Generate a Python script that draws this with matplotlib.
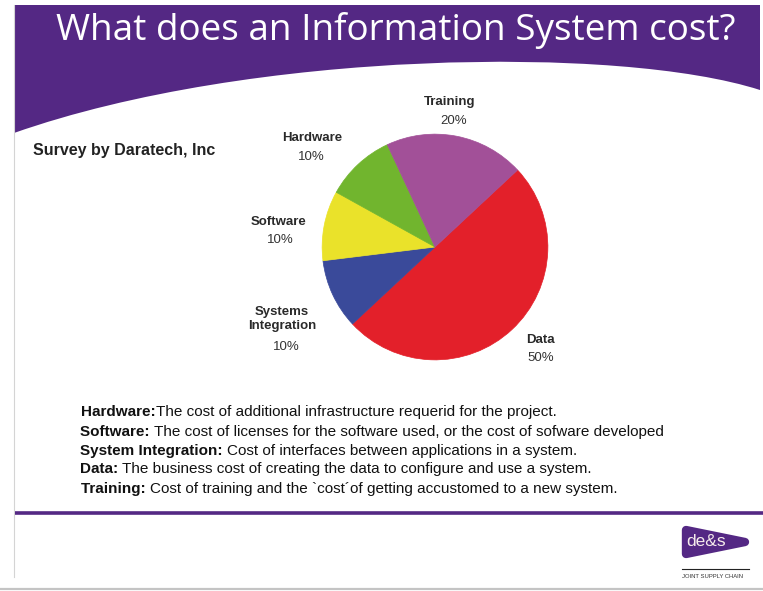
#!/usr/bin/env python3
"""
Slide: what does an information system cost (Daratech survey pie).
"""
import matplotlib.pyplot as plt
from matplotlib.path import Path
from matplotlib.patches import PathPatch, Polygon

# pie data, drawn clockwise starting at the Data slice
categories = ["Data", "Systems\nIntegration", "Software", "Hardware", "Training"]
shares = [50, 10, 10, 10, 20]
colors = ["#e3202a", "#3a4a9a", "#eae22a", "#71b52e", "#a25098"]

# label anchors on the slide (pixels): name position, percent position
label_pos = [
    ((540, 340), (541, 358)),
    ((282, 319), (286, 347)),
    ((279, 222), (280, 240)),
    ((312, 138), (311, 157)),
    ((450, 102), (454, 121)),
]

notes_bold = ["Hardware:", "Software: ", "System Integration: ", "Data: ", "Training: "]
notes_text = [
    "The cost of additional infrastructure requerid for the project.",
    "The cost of licenses for the software used, or the cost of sofware developed",
    "Cost of interfaces between applications in a system.",
    "The business cost of creating the data to configure and use a system.",
    "Cost of training and the `cost\u00b4of getting accustomed to a new system.",
]
notes_x = [81, 80, 80, 80, 81]
notes_y = [412, 432, 451, 469, 489]

PURPLE = "#542884"
W, H = 763, 591

fig = plt.figure(figsize=(W / 100, H / 100), dpi=100)
bg = fig.add_axes([0, 0, 1, 1])
bg.set_xlim(0, W)
bg.set_ylim(H, 0)
bg.axis("off")
renderer = fig.canvas.get_renderer()

# banner with curved lower edge
verts = [(14, 5), (760, 5), (760, 90), (620, 45), (250, 50), (14, 133), (14, 5)]
codes = [Path.MOVETO, Path.LINETO, Path.LINETO, Path.CURVE4, Path.CURVE4,
         Path.CURVE4, Path.CLOSEPOLY]
bg.add_patch(PathPatch(Path(verts, codes), facecolor=PURPLE, edgecolor="none"))

title = bg.text(56, 40, "What does an Information System cost?", color="white",
                fontsize=26, family="Open Sans", va="baseline", ha="left")
tw = title.get_window_extent(renderer).width
title.set_fontsize(26 * 681 / tw)

# frame lines
bg.plot([13.5, 13.5], [5, 577], color="#d4d4d4", lw=0.8)
bg.plot([0, W], [589, 589], color="#c4c4c4", lw=1.6)
bg.plot([15, W], [513, 513], color=PURPLE, lw=2.6, solid_capstyle="butt")

bg.text(33, 155, "Survey by Daratech, Inc", fontsize=11.5, fontweight="bold",
        family="Liberation Sans", color="#222222", va="baseline")

# pie
cx, cy, r = 435, 247, 114
pie_ax = fig.add_axes([(cx - r) / W, 1 - (cy + r) / H, 2 * r / W, 2 * r / H])
wedges, _ = pie_ax.pie(shares, colors=colors, startangle=43, counterclock=False,
                       radius=1)
for w in wedges:
    w.set_edgecolor(w.get_facecolor())
    w.set_linewidth(0.5)
pie_ax.set_xlim(-1.01, 1.01)
pie_ax.set_ylim(-1.01, 1.01)
pie_ax.set_aspect("equal")
pie_ax.axis("off")

for name, share, (npos, ppos) in zip(categories, shares, label_pos):
    bg.text(npos[0], npos[1], name, fontsize=9.5, fontweight="bold", ha="center",
            va="center", family="Liberation Sans", color="#2a2a2a", linespacing=1.3)
    bg.text(ppos[0], ppos[1], f"{share}%", fontsize=9.5, ha="center", va="center",
            family="Liberation Sans", color="#333333")

# notes below the pie, sized so the longest line spans like the slide
probe_b = bg.text(0, 0, notes_bold[1], fontsize=10, fontweight="bold", family="Liberation Sans")
probe_t = bg.text(0, 0, notes_text[1], fontsize=10, family="Liberation Sans")
line_w = probe_b.get_window_extent(renderer).width + probe_t.get_window_extent(renderer).width
probe_b.remove()
probe_t.remove()
note_size = 10 * 586 / line_w

for x, y, b, t in zip(notes_x, notes_y, notes_bold, notes_text):
    tb = bg.text(x, y, b, fontsize=note_size, fontweight="bold", family="Liberation Sans",
                 color="#111111", va="center")
    x1 = tb.get_window_extent(renderer).x1
    bg.text(x1, y, t, fontsize=note_size, family="Liberation Sans", color="#111111",
            va="center")

# logo
bg.add_patch(Polygon([(686, 530), (686, 554), (745, 542)], closed=True,
                     facecolor=PURPLE, edgecolor=PURPLE, lw=6, joinstyle="round"))
bg.text(706, 542, "de&s", color="#f6ecec", fontsize=12.5, family="Liberation Sans",
        ha="center", va="center")
bg.plot([682, 749], [569, 569], color="#222222", lw=0.8)
bg.text(712, 577, "JOINT SUPPLY CHAIN", fontsize=4.2, family="Liberation Sans",
        color="#333333", ha="center", va="center")

fig.savefig("out.png", dpi=100)
